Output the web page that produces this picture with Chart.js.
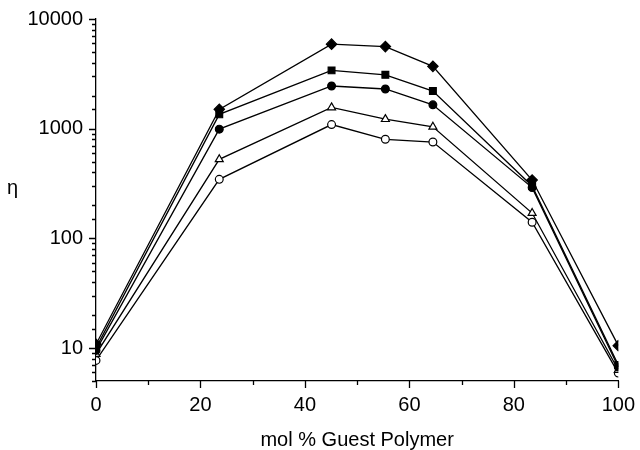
<!DOCTYPE html>
<html>
<head>
<meta charset="utf-8">
<script src="https://cdn.jsdelivr.net/npm/chart.js@4.4.1/dist/chart.umd.min.js"></script>
<style>
  html, body { margin: 0; padding: 0; background: #fff; }
  #wrap { width: 640px; height: 450px; }
</style>
</head>
<body>
<div id="wrap"><canvas id="etaChart" width="640" height="450"></canvas></div>
<script>
const molGuest = [0, 23.6, 45.1, 55.4, 64.5, 83.5, 100];
const diamondEta = [10.8, 1500, 5900, 5600, 3700, 340, 10.5];
const squareEta = [10, 1350, 3400, 3100, 2200, 300, 7.0];
const filledCircleEta = [9.5, 990, 2450, 2300, 1650, 290, 6.7];
const triangleEta = [8.8, 525, 1560, 1220, 1040, 170, 6.3];
const openCircleEta = [7.7, 345, 1090, 800, 755, 140, 5.9];
const yTickLabels = [10, 100, 1000, 10000];
const xTickLabels = [0, 20, 40, 60, 80, 100];

const FONT = "'Liberation Sans', Arial, Helvetica, sans-serif";

const isLabelled = (list, v) => list.some(t => Math.abs(t - v) < 1e-6 * Math.max(1, t));

function series(values, style, radius, fill) {
    return {
        data: molGuest.map((x, i) => ({ x: x, y: values[i] })),
        borderColor: '#000',
        borderWidth: 1.3,
        pointStyle: style,
        pointRadius: radius,
        pointBorderWidth: 1.2,
        pointBorderColor: '#000',
        pointBackgroundColor: fill,
        fill: false,
        tension: 0
    };
}

// short ticks for minor values, longer ones where a label sits; plus the η label
const tickMarks = {
    id: 'tickMarks',
    afterDraw(chart) {
        const ctx = chart.ctx;
        const xs = chart.scales.x;
        const ys = chart.scales.y;
        ctx.save();
        ctx.strokeStyle = '#000';
        ctx.lineWidth = 1.3;
        ctx.beginPath();
        ys.ticks.forEach(t => {
            const p = Math.round(ys.getPixelForValue(t.value)) + 0.5;
            const len = isLabelled(yTickLabels, t.value) ? 7 : 4;
            ctx.moveTo(ys.right - len, p);
            ctx.lineTo(ys.right, p);
        });
        xs.ticks.forEach(t => {
            const p = Math.round(xs.getPixelForValue(t.value)) + 0.5;
            const len = isLabelled(xTickLabels, t.value) ? 7 : 4;
            ctx.moveTo(p, xs.top);
            ctx.lineTo(p, xs.top + len);
        });
        ctx.stroke();
        ctx.fillStyle = '#000';
        ctx.font = '20px ' + FONT;
        ctx.textAlign = 'left';
        ctx.textBaseline = 'middle';
        ctx.fillText('η', 7, (chart.chartArea.top + chart.chartArea.bottom) / 2 - 12);
        ctx.restore();
    }
};

new Chart(document.getElementById('etaChart'), {
    type: 'line',
    data: {
        datasets: [
            series(diamondEta, 'rectRot', 5.2, '#000'),
            series(squareEta, 'rect', 4.8, '#000'),
            series(filledCircleEta, 'circle', 3.9, '#000'),
            series(triangleEta, 'triangle', 4.6, '#fff'),
            series(openCircleEta, 'circle', 3.9, '#fff')
        ]
    },
    plugins: [tickMarks],
    options: {
        responsive: false,
        animation: false,
        events: [],
        layout: { padding: { top: 19, right: 19, bottom: 0, left: 0 } },
        plugins: {
            legend: { display: false },
            tooltip: { enabled: false }
        },
        scales: {
            x: {
                type: 'linear',
                min: 0,
                max: 100,
                grid: { display: true, drawOnChartArea: false, tickLength: 7, tickColor: 'rgba(0,0,0,0)' },
                border: { display: true, color: '#000', width: 1.3 },
                ticks: {
                    stepSize: 10,
                    autoSkip: false,
                    maxRotation: 0,
                    padding: 5,
                    color: '#000',
                    font: { family: FONT, size: 20 },
                    callback: v => isLabelled(xTickLabels, v) ? String(v) : ''
                },
                title: {
                    display: true,
                    text: 'mol % Guest Polymer',
                    color: '#000',
                    font: { family: FONT, size: 20, lineHeight: 1 },
                    padding: { top: 0, bottom: 0 }
                },
                afterFit: scale => { scale.height = 69; }
            },
            y: {
                type: 'logarithmic',
                min: 5,
                max: 10000,
                grid: { display: true, drawOnChartArea: false, tickLength: 7, tickColor: 'rgba(0,0,0,0)' },
                border: { display: true, color: '#000', width: 1.3 },
                ticks: {
                    autoSkip: false,
                    padding: 6,
                    color: '#000',
                    font: { family: FONT, size: 20 },
                    callback: v => isLabelled(yTickLabels, v) ? String(v) : ''
                },
                afterFit: scale => { scale.width = 96; }
            }
        }
    }
});
</script>
</body>
</html>
